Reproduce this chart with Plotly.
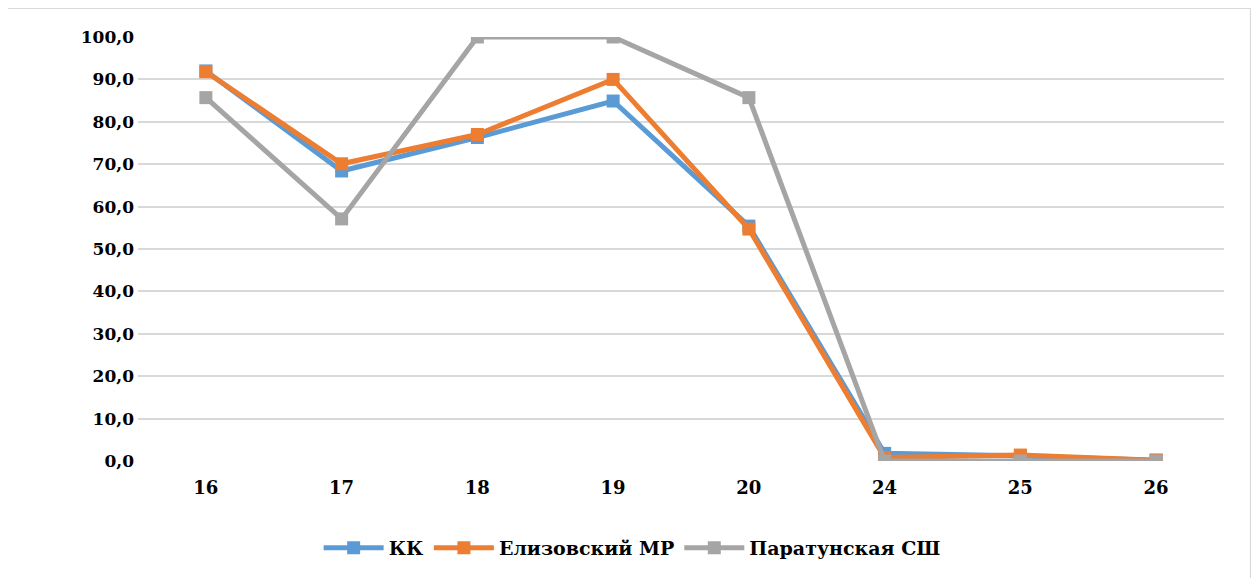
import plotly.graph_objects as go

categories = ["16", "17", "18", "19", "20", "24", "25", "26"]
kk = [92.0, 68.4, 76.3, 84.9, 55.4, 1.8, 1.2, 0.2]
elizovo = [91.8, 70.1, 77.0, 90.0, 54.7, 0.8, 1.4, 0.2]
paratunka = [85.7, 57.1, 100.0, 100.0, 85.7, 0.0, 0.0, 0.0]

names = ["КК", "Елизовский МР", "Паратунская СШ"]
colors = ["#5B9BD5", "#ED7D31", "#A5A5A5"]

fig = go.Figure()
for name, vals, col in zip(names, [kk, elizovo, paratunka], colors):
    fig.add_trace(go.Scatter(
        x=categories, y=vals, name=name, mode="lines+markers",
        line=dict(color=col, width=5),
        marker=dict(symbol="square", size=13, color=col),
    ))

FAM = "DejaVu Serif"

fig.update_layout(
    width=1259, height=578,
    margin=dict(l=130, r=43, t=29, b=125),
    paper_bgcolor="white", plot_bgcolor="white",
    separators=", ",
    font=dict(family=FAM, size=17, color="black"),
    showlegend=True,
    legend=dict(orientation="h", x=0.455, xanchor="center", y=-0.205, yanchor="middle",
                font=dict(family=FAM, size=19, color="black", weight="bold"),
                itemwidth=60, tracegroupgap=0),
    xaxis=dict(type="category", showgrid=False, zeroline=False, showline=False,
               ticks="", tickfont=dict(family=FAM, size=18, weight="bold"),
               ticklabelstandoff=14,
               range=[-0.5, 7.5], automargin=False),
    yaxis=dict(range=[0, 100], dtick=10, tickformat=".1f", showgrid=True,
               gridcolor="#D9D9D9", gridwidth=1.5, zeroline=False, showline=False,
               ticks="", tickfont=dict(family=FAM, size=17, weight="bold"),
               ticklabelstandoff=3, automargin=False),
    shapes=[dict(type="rect", xref="paper", yref="paper",
                 x0=-0.1225, x1=1.0245, y0=-0.29, y1=1.068,
                 line=dict(color="#D9D9D9", width=1.5), layer="below")],
)

fig.write_html("out.html")
